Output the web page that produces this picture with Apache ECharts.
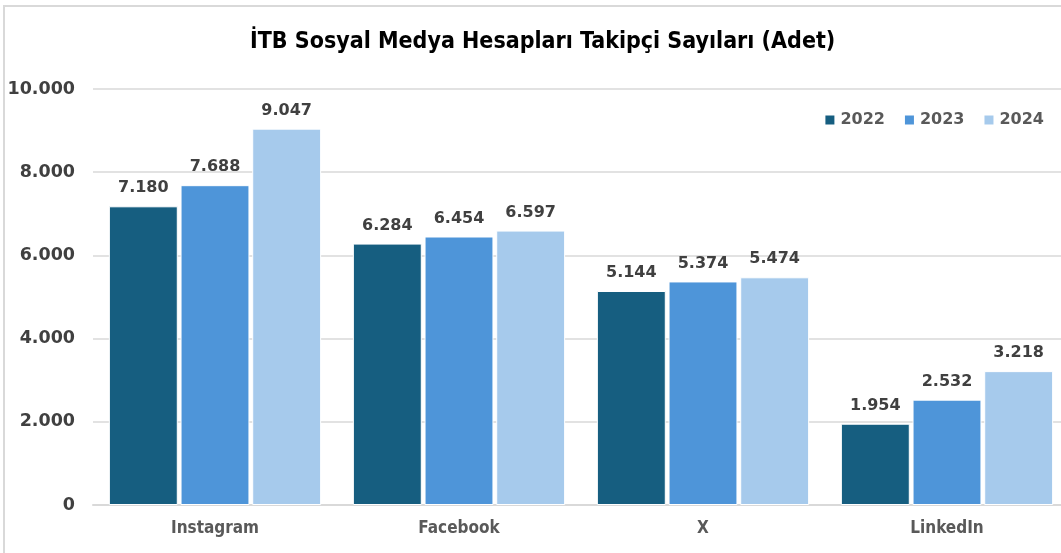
<!DOCTYPE html>
<html>
<head>
<meta charset="utf-8">
<style>
  html, body { margin: 0; padding: 0; background: #fff; }
  #frame { position: absolute; left: 3px; top: 5px; width: 1100px; height: 600px;
           border-left: 2px solid #d9d9d9; border-top: 2px solid #d9d9d9; }
  #main { position: absolute; left: 0; top: 0; width: 1061px; height: 553px; }
</style>
</head>
<body>
<div id="frame"></div>
<div id="main"></div>
<script src="https://cdn.jsdelivr.net/npm/echarts@6/dist/echarts.min.js"></script>
<script>
// platformlar ve yillar
var categories = ['Instagram', 'Facebook', 'X', 'LinkedIn'];
var years = ['2022', '2023', '2024'];
var v2022 = [7180, 6284, 5144, 1954];
var v2023 = [7688, 6454, 5374, 2532];
var v2024 = [9047, 6597, 5474, 3218];
var colors = ['#165e80', '#4e95d9', '#a6caec'];

function fmt(n) {
    return String(n).replace(/\B(?=(\d{3})+(?!\d))/g, '.');
}

var myChart = echarts.init(document.getElementById('main'));

function makeSeries(name, data, color) {
    return {
        name: name,
        type: 'bar',
        data: data,
        barGap: '4%',
        barCategoryGap: '13%',
        itemStyle: { color: color, borderColor: '#fff', borderWidth: 1 },
        label: {
            show: true,
            position: 'top',
            distance: 10,
            color: '#404040',
            fontFamily: 'DejaVu Sans',
            fontWeight: 'bold',
            fontSize: 16,
            formatter: function (p) { return fmt(p.value); }
        }
    };
}

var option = {
    animation: false,
    title: {
        text: 'İTB Sosyal Medya Hesapları Takipçi Sayıları (Adet)',
        left: 245,
        top: 26,
        textStyle: { fontFamily: 'DejaVu Sans Condensed', fontWeight: 'bold', fontSize: 23, color: '#000' }
    },
    legend: {
        data: years,
        right: 12,
        top: 107,
        itemWidth: 11,
        itemHeight: 11,
        itemGap: 18,
        icon: 'rect',
        textStyle: { fontFamily: 'DejaVu Sans', fontWeight: 'bold', fontSize: 16, color: '#595959' }
    },
    grid: { left: 93, width: 976, top: 89, bottom: 48, containLabel: false, outerBoundsMode: 'none' },
    xAxis: {
        type: 'category',
        data: categories,
        axisLine: { lineStyle: { color: '#d9d9d9', width: 2 } },
        axisTick: { show: false },
        axisLabel: {
            margin: 15,
            color: '#595959',
            fontFamily: 'DejaVu Sans Condensed',
            fontWeight: 'bold',
            fontSize: 17
        }
    },
    yAxis: {
        type: 'value',
        min: 0,
        max: 10000,
        interval: 2000,
        axisLine: { show: false },
        axisTick: { show: false },
        splitLine: { lineStyle: { color: '#d9d9d9', width: 1.5 } },
        axisLabel: {
            margin: 18,
            color: '#404040',
            fontFamily: 'DejaVu Sans',
            fontWeight: 'bold',
            fontSize: 17.5,
            formatter: function (v) { return fmt(v); }
        }
    },
    series: [
        makeSeries(years[0], v2022, colors[0]),
        makeSeries(years[1], v2023, colors[1]),
        makeSeries(years[2], v2024, colors[2])
    ]
};
myChart.setOption(option);
</script>
</body>
</html>
